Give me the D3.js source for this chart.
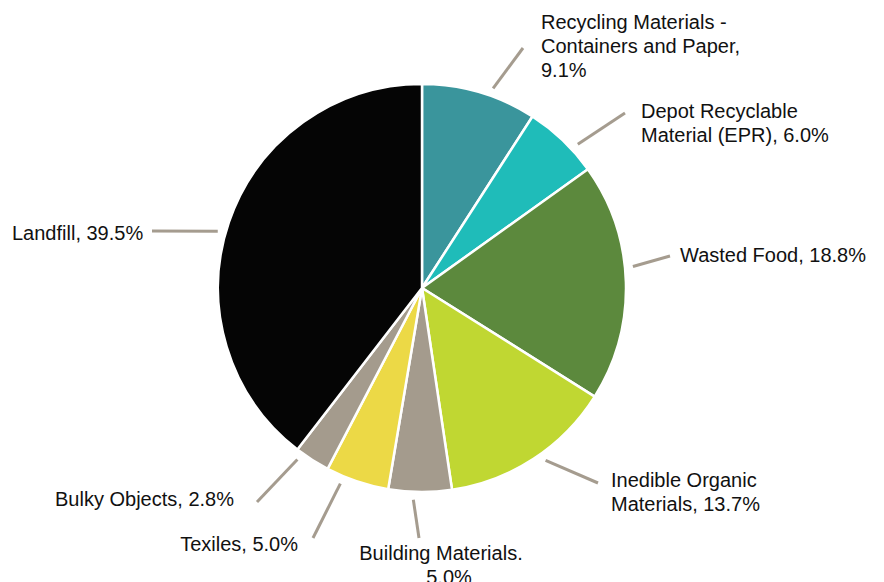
<!DOCTYPE html>
<html>
<head>
<meta charset="utf-8">
<script src="https://cdn.jsdelivr.net/npm/d3@7"></script>
<style>
  body { margin: 0; background: #fff; }
  text { font-family: "Liberation Sans", Arial, sans-serif; font-size: 20px; fill: #111; }
</style>
</head>
<body>
<div class="holder"></div>
<script>
const categories = [
  "Recycling Materials - Containers and Paper",
  "Depot Recyclable Material (EPR)",
  "Wasted Food",
  "Inedible Organic Materials",
  "Building Materials.",
  "Texiles",
  "Bulky Objects",
  "Landfill"
];
const shares = [9.1, 6.0, 18.8, 13.7, 5.0, 5.0, 2.8, 39.5];
const labelLines = [
  ["Recycling Materials -", "Containers and Paper,", "9.1%"],
  ["Depot Recyclable", "Material (EPR), 6.0%"],
  ["Wasted Food, 18.8%"],
  ["Inedible Organic", "Materials, 13.7%"],
  ["Building Materials.", "5.0%"],
  ["Texiles, 5.0%"],
  ["Bulky Objects, 2.8%"],
  ["Landfill, 39.5%"]
];
const colors = ["#3a959c", "#1fbcb9", "#5c893d", "#c0d732", "#a49b8d", "#ecd946", "#a49b8d", "#050505"];

// label placement: angle nudge for leader start, leader end, text anchor
const labelLayout = [
  { nudge: 3.2, x2: 523, y2: 48, tx: [541, 541, 541], ty: 29, anchor: "start" },
  { nudge: 3.7, x2: 625, y2: 113, tx: [641, 641], ty: 118, anchor: "start" },
  { nudge: -4.1, x2: 670, y2: 256, tx: [680], ty: 262, anchor: "start" },
  { nudge: -2.5, x2: 598, y2: 483, tx: [611, 611], ty: 487, anchor: "start" },
  { nudge: 1.8, x2: 419, y2: 538, tx: [441, 449], ty: 560, anchor: "middle" },
  { nudge: 4.1, x2: 313, y2: 538, tx: [298], ty: 551, anchor: "end" },
  { nudge: 3.4, x2: 257, y2: 502, tx: [55], ty: 506, anchor: "start" },
  { nudge: -3.3, x2: 152, y2: 231, tx: [12], ty: 240, anchor: "start" }
];

const width = 884;
const height = 582;
const cx = 422;
const cy = 288;
const radius = 204;

const svg = d3
  .select(".holder")
  .append("svg")
  .attr("width", width)
  .attr("height", height);

const pie = d3.pie().sort(null).value((d) => d)(shares);
const arc = d3.arc().innerRadius(0).outerRadius(radius);

const g = svg.append("g").attr("transform", `translate(${cx}, ${cy})`);

g.selectAll("path")
  .data(pie)
  .enter()
  .append("path")
  .attr("d", arc)
  .attr("fill", (d, i) => colors[i])
  .attr("stroke", "#fff")
  .attr("stroke-width", 2.5)
  .attr("stroke-linejoin", "round");

// leader lines start just outside the slice
const edgeArc = d3.arc().innerRadius(radius + 8).outerRadius(radius + 8);

pie.forEach((d, i) => {
  const lay = labelLayout[i];
  const mid = (d.startAngle + d.endAngle) / 2 + (lay.nudge * Math.PI) / 180;
  const [sx, sy] = edgeArc.centroid({ startAngle: mid, endAngle: mid });

  svg
    .append("line")
    .attr("x1", cx + sx)
    .attr("y1", cy + sy)
    .attr("x2", lay.x2)
    .attr("y2", lay.y2)
    .attr("stroke", "#a59c8f")
    .attr("stroke-width", 3);

  const t = svg.append("text").attr("text-anchor", lay.anchor);
  labelLines[i].forEach((line, j) => {
    t.append("tspan")
      .attr("x", lay.tx[j])
      .attr("y", lay.ty + j * 24)
      .text(line);
  });
});
</script>
</body>
</html>
